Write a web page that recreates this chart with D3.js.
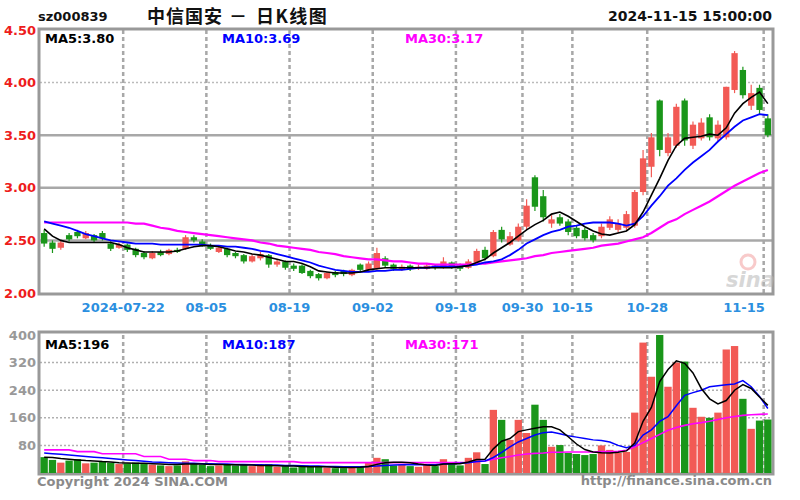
<!DOCTYPE html>
<html><head><meta charset="utf-8">
<script src="https://cdn.jsdelivr.net/npm/d3@7"></script>
<style>
body{margin:0;background:#fff}
svg{display:block}
text{font-family:"DejaVu Sans",sans-serif;font-weight:bold}
</style>
</head><body>
<svg id="chart" width="800" height="500"></svg>
<script>
const dates = [
"2024-07-08","2024-07-09","2024-07-10","2024-07-11","2024-07-12","2024-07-15","2024-07-16","2024-07-17","2024-07-18","2024-07-19",
"2024-07-22","2024-07-23","2024-07-24","2024-07-25","2024-07-26","2024-07-29","2024-07-30","2024-07-31",
"2024-08-01","2024-08-02","2024-08-05","2024-08-06","2024-08-07","2024-08-08","2024-08-09","2024-08-12","2024-08-13","2024-08-14","2024-08-15","2024-08-16",
"2024-08-19","2024-08-20","2024-08-21","2024-08-22","2024-08-23","2024-08-26","2024-08-27","2024-08-28","2024-08-29","2024-08-30",
"2024-09-02","2024-09-03","2024-09-04","2024-09-05","2024-09-06","2024-09-09","2024-09-10","2024-09-11","2024-09-12","2024-09-13",
"2024-09-18","2024-09-19","2024-09-20","2024-09-23","2024-09-24","2024-09-25","2024-09-26","2024-09-27","2024-09-30",
"2024-10-08","2024-10-09","2024-10-10","2024-10-11","2024-10-14","2024-10-15","2024-10-16","2024-10-17","2024-10-18","2024-10-21","2024-10-22","2024-10-23","2024-10-24","2024-10-25","2024-10-28","2024-10-29","2024-10-30","2024-10-31",
"2024-11-01","2024-11-04","2024-11-05","2024-11-06","2024-11-07","2024-11-08","2024-11-11","2024-11-12","2024-11-13","2024-11-14","2024-11-15"];

const open  = [2.57,2.48,2.43,2.55,2.58,2.52,2.55,2.57,2.47,2.43, 2.46,2.42,2.38,2.33,2.39,2.37,2.41,2.42,2.53,2.49, 2.45,2.39,2.42,2.38,2.36,2.30,2.33,2.36,2.27,2.30, 2.26,2.26,2.21,2.18,2.14,2.20,2.21,2.17,2.27,2.22, 2.23,2.33,2.27,2.22,2.26,2.24,2.23,2.26,2.24,2.29, 2.26,2.24,2.29,2.41,2.35,2.60,2.46,2.50,2.63,3.10, 2.92,2.66,2.72,2.68,2.62,2.60,2.55,2.54,2.62,2.60, 2.62,2.64,2.96,3.20,3.83,3.33,3.40,3.83,3.40,3.47, 3.67,3.47,3.48,3.93,4.12,3.78,3.95,3.66];
const high  = [2.60,2.50,2.50,2.57,2.60,2.59,2.56,2.59,2.49,2.48, 2.47,2.43,2.40,2.40,2.41,2.42,2.43,2.55,2.55,2.51, 2.47,2.45,2.43,2.39,2.37,2.37,2.39,2.37,2.32,2.31, 2.28,2.27,2.22,2.19,2.20,2.21,2.22,2.23,2.28,2.30, 2.43,2.35,2.28,2.27,2.27,2.27,2.28,2.27,2.34,2.30, 2.28,2.32,2.42,2.44,2.60,2.63,2.58,2.66,2.89,3.12, 2.98,2.74,2.75,2.70,2.64,2.62,2.57,2.66,2.73,2.70, 2.78,2.98,3.36,3.52,3.84,3.52,3.80,3.85,3.63,3.66, 3.70,3.64,3.96,4.30,4.15,3.98,3.98,3.70];
const low   = [2.44,2.38,2.41,2.49,2.52,2.51,2.48,2.50,2.40,2.42, 2.39,2.34,2.32,2.32,2.35,2.36,2.38,2.41,2.48,2.44, 2.41,2.38,2.34,2.33,2.28,2.29,2.31,2.24,2.25,2.22, 2.21,2.18,2.14,2.12,2.13,2.15,2.16,2.16,2.20,2.21, 2.22,2.24,2.21,2.21,2.21,2.22,2.22,2.22,2.23,2.23, 2.21,2.23,2.28,2.31,2.34,2.48,2.45,2.49,2.60,2.78, 2.68,2.62,2.64,2.55,2.52,2.50,2.48,2.52,2.60,2.58, 2.60,2.62,2.93,3.10,3.30,3.30,3.38,3.40,3.37,3.45, 3.45,3.44,3.46,3.90,3.85,3.74,3.70,3.48];
const close = [2.47,2.42,2.48,2.51,2.54,2.57,2.50,2.52,2.42,2.46, 2.41,2.36,2.34,2.38,2.36,2.41,2.39,2.53,2.50,2.45, 2.42,2.43,2.36,2.35,2.30,2.35,2.37,2.27,2.30,2.24, 2.23,2.19,2.16,2.14,2.19,2.17,2.18,2.22,2.22,2.28, 2.38,2.26,2.23,2.25,2.23,2.25,2.26,2.24,2.30,2.25, 2.23,2.30,2.40,2.33,2.58,2.51,2.54,2.63,2.83,2.82, 2.72,2.70,2.66,2.58,2.54,2.52,2.50,2.63,2.70,2.66, 2.75,2.96,3.28,3.48,3.36,3.48,3.77,3.45,3.60,3.62, 3.48,3.60,3.96,4.28,3.88,3.90,3.74,3.50];

const volume = [46,38,30,36,40,28,30,34,30,26, 28,30,26,24,22,20,22,34,26,24, 20,22,24,22,24,20,22,26,18,20, 16,18,20,18,16,14,14,16,20,30, 44,40,22,24,20,18,26,20,40,28, 22,44,60,26,183,154,96,154,116,198, 154,76,81,58,55,52,55,80,67,58, 61,175,378,279,420,250,320,323,189,163, 160,175,358,368,215,128,152,155];

const ma5  = [2.61,2.54,2.50,2.48,2.48,2.48,2.48,2.48,2.48,2.46, 2.43,2.41,2.39,2.39,2.39,2.39,2.40,2.42,2.44,2.45, 2.45,2.44,2.42,2.40,2.39,2.37,2.36,2.34,2.32,2.30, 2.30,2.28,2.25,2.21,2.20,2.19,2.19,2.19,2.20,2.22, 2.23,2.24,2.24,2.24,2.24,2.24,2.24,2.24,2.24,2.24, 2.25,2.26,2.29,2.32,2.38,2.43,2.48,2.54,2.60,2.65, 2.69,2.75,2.77,2.73,2.68,2.63,2.59,2.56,2.55,2.57, 2.59,2.65,2.77,2.93,3.09,3.26,3.40,3.47,3.48,3.49, 3.51,3.50,3.57,3.71,3.80,3.86,3.91,3.80];
const ma10 = [2.68,2.66,2.64,2.62,2.59,2.56,2.54,2.52,2.50,2.49, 2.48,2.47,2.47,2.47,2.46,2.46,2.46,2.46,2.46,2.46, 2.45,2.45,2.44,2.44,2.43,2.42,2.40,2.39,2.37,2.35, 2.33,2.31,2.29,2.26,2.24,2.22,2.21,2.20,2.20,2.20, 2.21,2.21,2.22,2.22,2.23,2.24,2.24,2.25,2.25,2.25, 2.25,2.26,2.27,2.29,2.30,2.32,2.36,2.41,2.47,2.51, 2.55,2.58,2.60,2.63,2.64,2.66,2.67,2.67,2.67,2.66, 2.64,2.66,2.73,2.83,2.92,3.02,3.09,3.17,3.24,3.30, 3.36,3.44,3.51,3.58,3.64,3.67,3.70,3.69];
const ma30 = [2.67,2.67,2.67,2.67,2.67,2.67,2.67,2.67,2.67,2.67, 2.67,2.66,2.66,2.64,2.62,2.61,2.59,2.58,2.57,2.56, 2.55,2.54,2.53,2.52,2.51,2.50,2.48,2.47,2.45,2.44, 2.43,2.42,2.41,2.39,2.38,2.37,2.35,2.34,2.33,2.32, 2.32,2.31,2.30,2.30,2.29,2.28,2.28,2.27,2.27,2.27, 2.27,2.27,2.28,2.28,2.29,2.30,2.31,2.32,2.33,2.35, 2.36,2.38,2.39,2.40,2.41,2.42,2.43,2.45,2.46,2.47, 2.49,2.51,2.53,2.57,2.62,2.67,2.70,2.75,2.79,2.83, 2.87,2.92,2.97,3.02,3.06,3.10,3.14,3.17];

const volMa5  = [46,45,42,40,38,36,35,33,32,30, 29,28,28,27,26,25,25,26,26,26, 25,25,24,24,23,23,22,22,21,20, 20,19,18,18,18,17,16,16,17,19, 25,30,31,31,30,26,23,22,26,27, 27,32,39,40,70,92,100,120,125,130, 134,134,125,105,84,68,61,59,58,60, 64,87,150,190,265,300,325,318,290,245, 215,200,210,240,256,245,220,196];
const volMa10 = [58,56,54,52,50,48,46,44,42,40, 38,36,34,32,31,30,29,28,28,27, 27,26,26,25,25,24,24,23,23,22, 22,21,20,20,19,19,18,18,18,19, 20,22,23,24,24,24,24,24,26,27, 28,30,33,35,45,60,76,90,100,110, 117,119,114,108,104,100,96,94,90,80, 73,80,110,125,150,163,195,225,233,240, 250,253,256,258,268,250,222,187];
const volMa30 = [67,67,67,67,62,62,62,56,56,56, 56,56,48,48,48,40,40,40,36,36, 36,33,33,33,33,33,33,33,33,33, 33,30,30,30,30,30,30,30,30,30, 30,30,30,30,30,30,30,30,30,30, 30,31,33,35,40,44,48,52,55,57, 58,60,60,61,61,61,61,62,62,63, 66,76,88,100,112,124,132,138,143,146, 150,155,160,164,167,169,170,171];

const priceTicks = [2.00,2.50,3.00,3.50,4.00,4.50];
const volTicks = [80,160,240,320,400];
const gridDates = ["2024-07-22","2024-08-05","2024-08-19","2024-09-02","2024-09-18","2024-09-30","2024-10-15","2024-10-28","2024-11-15"];
const gridLabels = ["2024-07-22","08-05","08-19","09-02","09-18","09-30","10-15","10-28","11-15"];

const RED = "#f25a55", GREEN = "#1a961a";
const svg = d3.select("#chart");
const L = 40, R = 772, mTop = 30, mBot = 293, vTop = 335, vBot = 473;

const x = d3.scaleBand().domain(dates).range([L, R]).padding(0);
const y = d3.scaleLinear().domain([2.0, 4.5]).range([mBot, mTop]);
const yv = d3.scaleLinear().domain([0, 400]).range([vBot, vTop]).clamp(true);
const bw = x.bandwidth();
const cx = d => x(d) + bw / 2;

// grid (main)
const g = svg.append("g");
priceTicks.forEach(t => {
  if (t === 2.0 || t === 4.5) return;
  g.append("line").attr("x1", L).attr("x2", R).attr("y1", y(t)).attr("y2", y(t))
    .attr("stroke", t === 4.0 ? "#bbb" : "#a8a8a8").attr("stroke-width", t === 4.0 ? 1.5 : 2.5)
    .attr("stroke-dasharray", t === 4.0 ? "2,2" : null);
});
volTicks.forEach(t => {
  if (t === 400) return;
  g.append("line").attr("x1", L).attr("x2", R).attr("y1", yv(t)).attr("y2", yv(t))
    .attr("stroke", "#b0b0b0").attr("stroke-width", 1.5).attr("stroke-dasharray", "2,2");
});
gridDates.forEach(d => {
  [[mTop, mBot], [vTop, vBot]].forEach(([a, b]) => {
    g.append("line").attr("x1", x(d)).attr("x2", x(d)).attr("y1", a).attr("y2", b)
      .attr("stroke", "#a8a8a8").attr("stroke-width", 2.5).attr("stroke-dasharray", "4,3");
  });
});

// frames
[[mTop, mBot], [vTop - 2, vBot]].forEach(([a, b]) => {
  svg.append("rect").attr("x", L - 1).attr("y", a - 1).attr("width", R - L + 2).attr("height", b - a + 2)
    .attr("fill", "none").attr("stroke", "#999").attr("stroke-width", 3);
});

// watermark
const wm = svg.append("g").attr("opacity", 0.55);
wm.append("circle").attr("cx", 748).attr("cy", 262).attr("r", 7).attr("fill", "none").attr("stroke", "#f3a0a0").attr("stroke-width", 3);
wm.append("text").attr("x", 726).attr("y", 287).attr("font-size", 21).attr("font-style", "italic").attr("fill", "#b8b8b8").text("sina");

// candles
const idx = d3.range(dates.length);
const cg = svg.append("g");
cg.selectAll("line.w").data(idx).join("line")
  .attr("x1", i => cx(dates[i])).attr("x2", i => cx(dates[i]))
  .attr("y1", i => y(high[i])).attr("y2", i => y(low[i]))
  .attr("stroke", i => close[i] >= open[i] ? RED : GREEN).attr("stroke-width", 1.2);
cg.selectAll("rect.b").data(idx).join("rect")
  .attr("x", i => x(dates[i]) + 1).attr("width", bw - 2)
  .attr("y", i => y(Math.max(open[i], close[i])))
  .attr("height", i => Math.max(1.5, Math.abs(y(open[i]) - y(close[i]))))
  .attr("fill", i => close[i] >= open[i] ? RED : GREEN);

// volume bars
svg.append("g").selectAll("rect").data(idx).join("rect")
  .attr("x", i => x(dates[i]) + 0.5).attr("width", bw - 1)
  .attr("y", i => yv(volume[i])).attr("height", i => yv(0) - yv(volume[i]))
  .attr("fill", i => close[i] >= open[i] ? RED : GREEN);

// MA lines
const line = (arr, sc) => d3.line().x((v, i) => cx(dates[i])).y(v => sc(v))(arr);
[[ma30, "#ff00ff", 2.2], [ma10, "#0000ff", 1.8], [ma5, "#000", 1.6]].forEach(([a, c, w]) =>
  svg.append("path").attr("d", line(a, y)).attr("fill", "none").attr("stroke", c).attr("stroke-width", w));
[[volMa30, "#ff00ff", 1.6], [volMa10, "#0000ff", 1.5], [volMa5, "#000", 1.5]].forEach(([a, c, w]) =>
  svg.append("path").attr("d", line(a, yv)).attr("fill", "none").attr("stroke", c).attr("stroke-width", w));

// axis labels
svg.append("g").selectAll("text").data(priceTicks).join("text")
  .attr("x", 36).attr("y", t => y(t)).attr("dy", "0.35em").attr("text-anchor", "end")
  .attr("font-size", 13).attr("fill", "#ee1c1c").text(t => t.toFixed(2));
svg.append("g").selectAll("text").data(volTicks).join("text")
  .attr("x", 36).attr("y", t => yv(t)).attr("dy", "0.35em").attr("text-anchor", "end")
  .attr("font-size", 13).attr("fill", "#999").text(t => t);
svg.append("g").selectAll("text").data(gridDates).join("text")
  .attr("x", d => Math.min(x(d), R - 28)).attr("y", 312).attr("text-anchor", "middle")
  .attr("font-size", 13).attr("fill", "#2b8fe0").text((d, i) => gridLabels[i]);

// titles
svg.append("text").attr("x", 38).attr("y", 21).attr("font-size", 13).attr("fill", "#111").text("sz000839");
const title = svg.append("text").attr("y", 23).attr("font-size", 18)
  .style("font-family", "'Noto Sans CJK SC',sans-serif").attr("fill", "#111");
title.append("tspan").attr("x", 147).attr("letter-spacing", 1).text("中信国安 ");
title.append("tspan").attr("x", 229).text("－ ");
title.append("tspan").attr("x", 256).attr("letter-spacing", 1.5).text("日K线图");
svg.append("text").attr("x", 772).attr("y", 21).attr("text-anchor", "end").attr("font-size", 14).attr("fill", "#111").text("2024-11-15 15:00:00");

// legends
const leg = (txt, xx, yy, c) => svg.append("text").attr("x", xx).attr("y", yy).attr("font-size", 13).attr("fill", c).text(txt);
leg("MA5:" + ma5[ma5.length - 1].toFixed(2), 45, 43, "#000");
leg("MA10:" + ma10[ma10.length - 1].toFixed(2), 222, 43, "#0000ff");
leg("MA30:" + ma30[ma30.length - 1].toFixed(2), 405, 43, "#ff00ff");
leg("MA5:" + volMa5[volMa5.length - 1], 45, 349, "#000");
leg("MA10:" + volMa10[volMa10.length - 1], 222, 349, "#0000ff");
leg("MA30:" + volMa30[volMa30.length - 1], 405, 349, "#ff00ff");

// footer
svg.append("text").attr("x", 37).attr("y", 486).attr("font-size", 13).attr("fill", "#8a8a8a").text("Copyright 2024 SINA.COM");
svg.append("text").attr("x", 772).attr("y", 485).attr("text-anchor", "end").attr("font-size", 13).attr("fill", "#8a8a8a").text("http://finance.sina.com.cn");
</script>
</body></html>
